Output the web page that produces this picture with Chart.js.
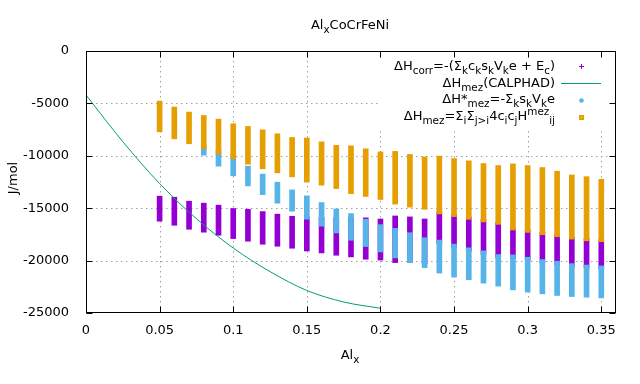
<!DOCTYPE html>
<html>
<head>
<meta charset="utf-8">
<script src="https://cdn.jsdelivr.net/npm/chart.js@4"></script>
<style>body{margin:0;background:#fff}</style>
</head>
<body>
<canvas id="chart" width="640" height="384"></canvas>
<script>
// Al content of AlxCoCrFeNi, one column of points per value
const alx = [0.05, 0.06, 0.07, 0.08, 0.09, 0.10, 0.11, 0.12, 0.13, 0.14, 0.15,
  0.16, 0.17, 0.18, 0.19, 0.20, 0.21, 0.22, 0.23, 0.24, 0.25,
  0.26, 0.27, 0.28, 0.29, 0.30, 0.31, 0.32, 0.33, 0.34, 0.35];

// ΔH_corr (purple), spread of points at each x
const corrTop = [-13850, -13950, -14330, -14520, -14710, -15030, -15100, -15320, -15570, -15770, -15850,
  -15880, -15900, -15900, -15920, -16030, -15740, -15830, -16030, -15300, -15600,
  -15850, -16100, -16350, -16900, -17100, -17300, -17500, -17750, -17900, -18000];
const corrBottom = [-16240, -16630, -17010, -17290, -17580, -17900, -18150, -18440, -18630, -18820, -19080,
  -19270, -19490, -19650, -19870, -19950, -20190, -20150, -20300, -18400, -18750,
  -19100, -19400, -19750, -19800, -20000, -20200, -20400, -20600, -20700, -20800];

// ΔH*_mez (blue)
const starTop = [null, null, null, -9000, -9500, -9900, -10990, -11750, -12520, -13250, -13820,
  -14460, -15070, -15510, -16050, -16570, -16920, -17340, -17820, -18045, -18430,
  -18780, -19070, -19420, -19460, -19680, -19900, -20060, -20290, -20420, -20510];
const starBottom = [null, null, null, -9940, -10990, -11910, -12870, -13700, -14520, -15290, -16050,
  -16720, -17360, -18060, -18660, -19170, -19740, -20190, -20670, -21190, -21570,
  -21830, -22150, -22440, -22790, -23010, -23170, -23330, -23430, -23490, -23560];

// ΔH_mez from pair enthalpies (orange)
const mezTop = [-4780, -5350, -5830, -6150, -6500, -6940, -7200, -7520, -7900, -8250, -8300,
  -8670, -9000, -9050, -9330, -9630, -9580, -9870, -10100, -10030, -10260,
  -10480, -10740, -10930, -10770, -10930, -11120, -11470, -11830, -11990, -12240];
const mezBottom = [-7710, -8380, -8850, -9330, -9840, -10290, -10800, -11240, -11630, -12010, -12510,
  -12800, -13130, -13610, -13880, -14170, -14610, -14900, -15100, -15545, -15800,
  -16060, -16310, -16540, -17080, -17310, -17530, -17720, -17950, -18110, -18200];

// ΔH_mez (CALPHAD) curve
const calphadX = [0, 0.025, 0.05, 0.075, 0.1, 0.125, 0.15, 0.175, 0.2];
const calphadY = [-4200, -8650, -12650, -16000, -18800, -21050, -22850, -23950, -24550];

const xTicks = [0, 0.05, 0.1, 0.15, 0.2, 0.25, 0.3, 0.35];
const yTicks = [0, -5000, -10000, -15000, -20000, -25000];

const FONT = 'DejaVu Sans';
const FS = 13;

function ranges(top, bottom) {
  const out = [];
  alx.forEach((x, i) => {
    if (top[i] != null) out.push({ x: x, y: [top[i], bottom[i]] });
  });
  return out;
}

// text with sub/superscripts: parts = [[text, 0|-1|1]]  (-1 sub, 1 sup)
function richWidth(ctx, parts, size) {
  let w = 0;
  parts.forEach(p => {
    ctx.font = (p[1] ? size * 0.8 : size) + 'px "' + FONT + '"';
    w += ctx.measureText(p[0]).width;
  });
  return w;
}
function drawRich(ctx, parts, x, y, size, align) {
  const w = richWidth(ctx, parts, size);
  let cx = align === 'right' ? x - w : align === 'center' ? x - w / 2 : x;
  ctx.textBaseline = 'middle';
  ctx.textAlign = 'left';
  parts.forEach(p => {
    const s = p[1] ? size * 0.8 : size;
    ctx.font = s + 'px "' + FONT + '"';
    const dy = p[1] === -1 ? size * 0.32 : p[1] === 1 ? -size * 0.38 : 0;
    ctx.fillText(p[0], cx, y + dy);
    cx += ctx.measureText(p[0]).width;
  });
}

const legendRows = [
  [['ΔH', 0], ['corr', -1], ['=-(Σ', 0], ['k', -1], ['c', 0], ['k', -1], ['s', 0], ['k', -1], ['V', 0], ['k', -1], ['e + E', 0], ['c', -1], [')', 0]],
  [['ΔH', 0], ['mez', -1], ['(CALPHAD)', 0]],
  [['ΔH*', 0], ['mez', -1], ['=-Σ', 0], ['k', -1], ['s', 0], ['k', -1], ['V', 0], ['k', -1], ['e', 0]],
  [['ΔH', 0], ['mez', -1], ['=Σ', 0], ['i', -1], ['Σ', 0], ['j>i', -1], ['4c', 0], ['i', -1], ['c', 0], ['j', -1], ['H', 0], ['mez', 1], ['ij', -1]]
];

const frame = {
  id: 'frame',
  beforeDatasetsDraw(chart) {
    const ctx = chart.ctx, a = chart.chartArea;
    const xs = chart.scales.x, ys = chart.scales.y;
    ctx.save();
    ctx.strokeStyle = '#a0a0a0';
    ctx.lineWidth = 1;
    ctx.setLineDash([1.5, 3.5]);
    xTicks.forEach(v => {
      const px = Math.round(xs.getPixelForValue(v)) + 0.5;
      if (v === 0) return;
      ctx.beginPath(); ctx.moveTo(px, a.top); ctx.lineTo(px, a.bottom); ctx.stroke();
    });
    yTicks.forEach(v => {
      if (v === 0 || v === -25000) return;
      const py = Math.round(ys.getPixelForValue(v)) + 0.5;
      ctx.beginPath(); ctx.moveTo(a.left, py); ctx.lineTo(a.right, py); ctx.stroke();
    });
    // opaque key box
    ctx.fillStyle = '#fff';
    ctx.fillRect(380, a.top, a.right - 380, 128 - a.top);
    ctx.restore();
  },
  afterDatasetsDraw(chart) {
    const ctx = chart.ctx, a = chart.chartArea;
    const xs = chart.scales.x, ys = chart.scales.y;
    ctx.save();
    ctx.strokeStyle = '#000';
    ctx.lineWidth = 1;
    const L = Math.round(a.left) + 0.5, R = Math.round(a.right) - 0.5;
    const T = Math.round(a.top) + 0.5, B = Math.round(a.bottom) - 0.5;
    ctx.strokeRect(L, T, R - L, B - T);
    ctx.beginPath();
    xTicks.forEach(v => {
      const px = Math.round(xs.getPixelForValue(v)) + 0.5;
      ctx.moveTo(px, B); ctx.lineTo(px, B - 6);
      ctx.moveTo(px, T); ctx.lineTo(px, T + 6);
    });
    yTicks.forEach(v => {
      const py = Math.round(ys.getPixelForValue(v)) + 0.5;
      ctx.moveTo(L, py); ctx.lineTo(L + 6, py);
      ctx.moveTo(R, py); ctx.lineTo(R - 6, py);
    });
    ctx.stroke();

    // key
    ctx.fillStyle = '#000';
    const rowY = [67, 84, 100, 117];
    legendRows.forEach((r, i) => drawRich(ctx, r, 555, rowY[i], FS, 'right'));
    ctx.strokeStyle = '#9400d3';
    ctx.beginPath();
    ctx.moveTo(579, 66.5); ctx.lineTo(584, 66.5);
    ctx.moveTo(581.5, 64); ctx.lineTo(581.5, 69);
    ctx.stroke();
    ctx.strokeStyle = '#009e73';
    ctx.beginPath(); ctx.moveTo(561, 83.5); ctx.lineTo(601, 83.5); ctx.stroke();
    ctx.fillStyle = '#56b4e9';
    ctx.beginPath(); ctx.arc(581.5, 100.5, 2.3, 0, Math.PI * 2); ctx.fill();
    ctx.fillStyle = '#e69f00';
    ctx.fillRect(579, 115, 5, 5);
    ctx.fillStyle = '#f6d9a0';
    ctx.fillRect(581, 117, 1, 1);

    // titles
    ctx.fillStyle = '#000';
    drawRich(ctx, [['Al', 0], ['x', -1], ['CoCrFeNi', 0]], 350, 26, FS, 'center');
    drawRich(ctx, [['Al', 0], ['x', -1]], 350, 356, FS, 'center');
    ctx.translate(14, 178);
    ctx.rotate(-Math.PI / 2);
    drawRich(ctx, [['J/mol', 0]], 0, 0, FS, 'center');
    ctx.restore();
  }
};

const barCommon = { grouped: false, barThickness: 5, borderWidth: 0, clip: false };

new Chart(document.getElementById('chart'), {
  type: 'bar',
  data: {
    datasets: [
      Object.assign({ label: 'ΔH_mez', data: ranges(mezTop, mezBottom), backgroundColor: '#e69f00', order: 0 }, barCommon),
      Object.assign({ label: 'ΔH*_mez', data: ranges(starTop, starBottom), backgroundColor: '#56b4e9', order: 1 }, barCommon),
      {
        type: 'line', label: 'ΔH_mez(CALPHAD)', order: 2,
        data: calphadX.map((x, i) => ({ x: x, y: calphadY[i] })),
        borderColor: '#009e73', borderWidth: 1, pointRadius: 0,
        cubicInterpolationMode: 'monotone', fill: false
      },
      Object.assign({ label: 'ΔH_corr', data: ranges(corrTop, corrBottom), backgroundColor: '#9400d3', order: 3 }, barCommon)
    ]
  },
  options: {
    responsive: false,
    animation: false,
    devicePixelRatio: 1,
    layout: { padding: { top: 51, right: 24, left: 0, bottom: 0 } },
    plugins: { legend: { display: false }, tooltip: { enabled: false }, title: { display: false } },
    scales: {
      x: {
        type: 'linear', min: 0, max: 0.36, offset: false,
        afterBuildTicks: s => { s.ticks = xTicks.map(v => ({ value: v })); },
        afterFit: s => { s.height = 384 - 313; },
        grid: { display: false }, border: { display: false },
        ticks: { color: '#000', padding: 2, maxRotation: 0, font: { family: FONT, size: FS },
          callback: v => String(+v.toFixed(2)) }
      },
      y: {
        min: -25000, max: 0,
        afterBuildTicks: s => { s.ticks = yTicks.map(v => ({ value: v })); },
        afterFit: s => { s.width = 86; },
        grid: { display: false }, border: { display: false },
        ticks: { color: '#000', padding: 9, font: { family: FONT, size: FS },
          callback: v => String(v) }
      }
    }
  },
  plugins: [frame]
});
</script>
</body>
</html>
